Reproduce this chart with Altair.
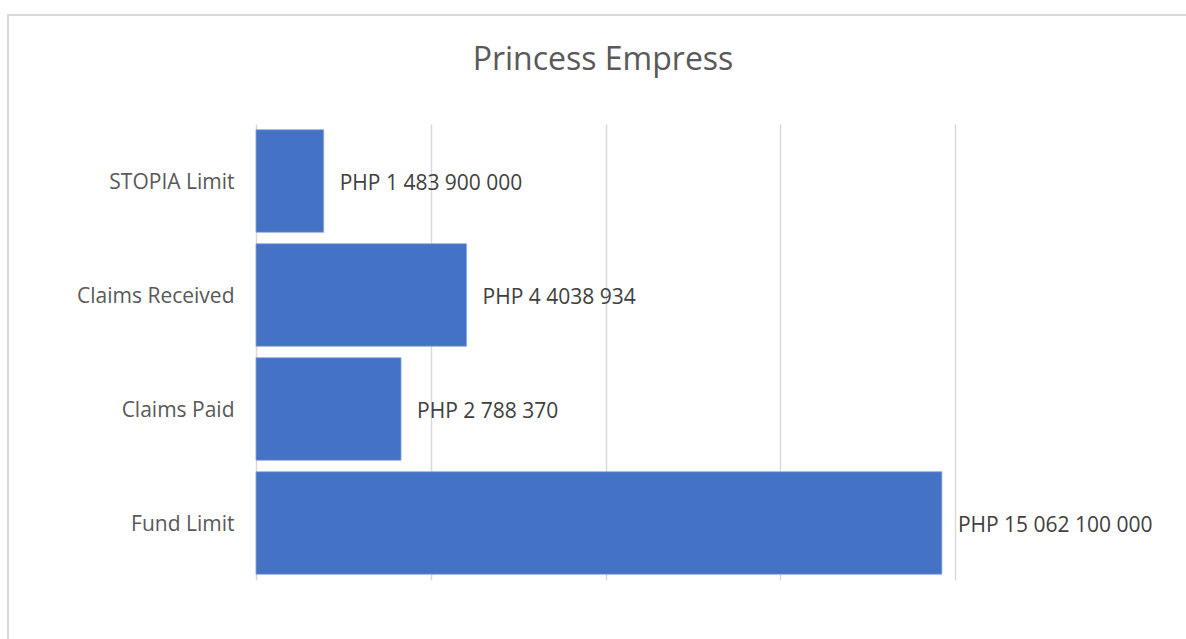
import altair as alt
import pandas as pd

categories = ["STOPIA Limit", "Claims Received", "Claims Paid", "Fund Limit"]
values = [1.55, 4.82, 3.32, 15.70]
labels = ["PHP 1 483 900 000", "PHP 4 4038 934", "PHP 2 788 370", "PHP 15 062 100 000"]
title_text = "Princess Empress"

df = pd.DataFrame({"cat": categories, "val": values, "label": labels})

FONT = "Open Sans"
GRAY = "#595959"
FS = 21

y_enc = alt.Y("cat:N", sort=categories, title=None,
              scale=alt.Scale(paddingInner=0.1, paddingOuter=0.05),
              axis=alt.Axis(domain=False, ticks=False, grid=False, labelFontSize=FS, labelFont=FONT,
                            labelColor=GRAY, labelPadding=22, labelOffset=2))
x_enc = alt.X("val:Q", title=None,
              scale=alt.Scale(domain=[0, 16], nice=False),
              axis=alt.Axis(values=[0, 4, 8, 12, 16], labels=False, ticks=False, domain=False,
                            grid=True, gridColor="#d9d9d9", gridWidth=1.5))

bars = alt.Chart(df).mark_bar(color="#4472c4", stroke="#8faadc", strokeWidth=0.8).encode(
    x=x_enc, y=y_enc)

text = alt.Chart(df).mark_text(align="left", baseline="middle", dx=16, dy=3,
                               fontSize=FS, font=FONT, color="#404040").encode(
    x="val:Q", y=alt.Y("cat:N", sort=categories), text="label:N")

border = alt.Chart(df).mark_rect(fill=None, stroke="#d9d9d9", strokeWidth=1.5, clip=False).encode(
    x=alt.value(-248), x2=alt.value(960), y=alt.value(-109), y2=alt.value(520))

title = alt.Chart(pd.DataFrame({"t": [title_text]})).mark_text(
    fontSize=32, font=FONT, color=GRAY, align="center", baseline="middle", clip=False).encode(
    x=alt.value(347), y=alt.value(-64), text="t:N")

chart = alt.layer(border, bars, text, title).properties(
    width=699, height=456,
    padding={"left": 256, "top": 124, "right": 231, "bottom": 59},
    autosize=alt.AutoSizeParams(type="none"),
    view=alt.ViewConfig(strokeOpacity=0, strokeWidth=0),
).configure_view(strokeWidth=0, strokeOpacity=0).configure(background="white")

chart.save("out.html", embed_options={"renderer": "svg", "actions": False})
